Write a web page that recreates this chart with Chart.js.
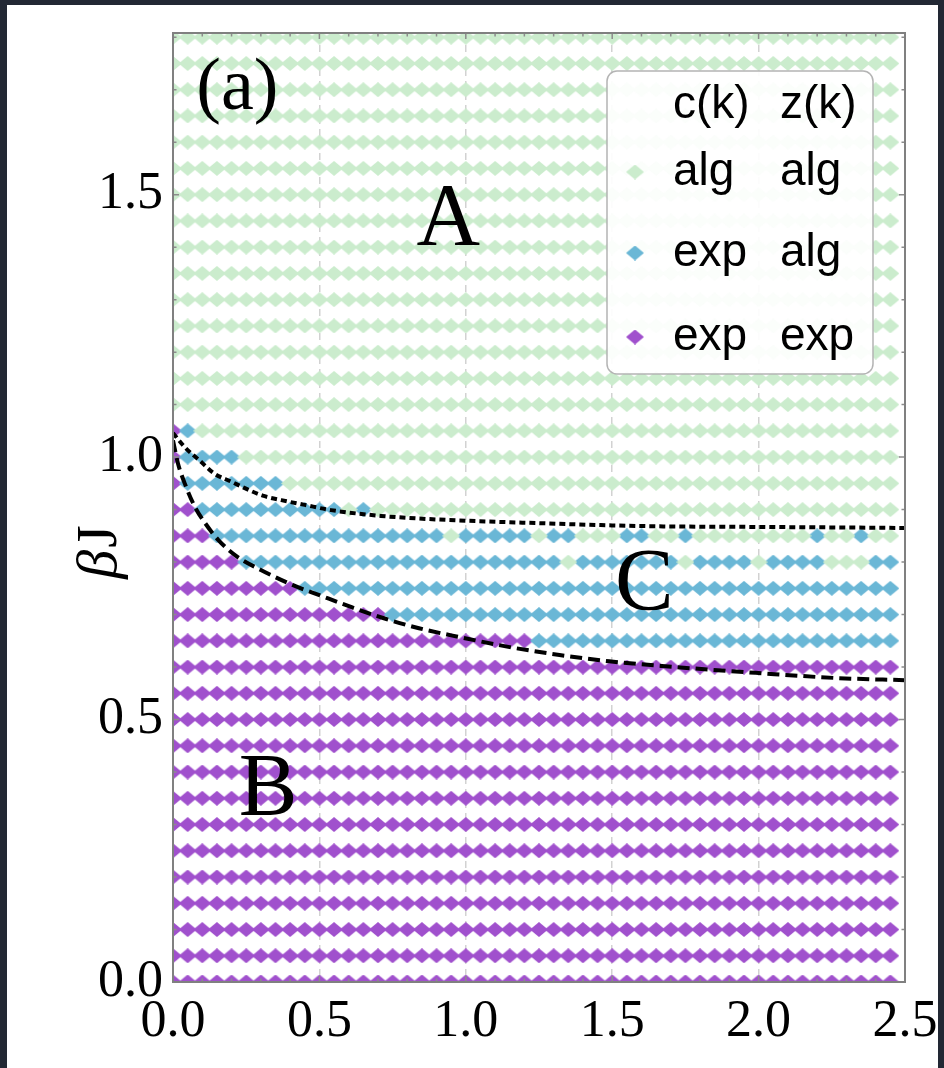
<!DOCTYPE html>
<html>
<head>
<meta charset="utf-8">
<title>phase diagram (a)</title>
<script src="https://cdn.jsdelivr.net/npm/chart.js@4.4.1/dist/chart.umd.min.js"></script>
<style>
  html, body { margin: 0; padding: 0; background: #222834; }
  #wrap { position: absolute; left: 7px; top: 5px; width: 931px; height: 1063px; background: #fff; }
</style>
</head>
<body>
<div id="wrap"><canvas id="phaseChart" width="931" height="1063"></canvas></div>
<script>
// grid of the scan
const hValues = [0.00, 0.05, 0.10, 0.15, 0.20, 0.25, 0.30, 0.35, 0.40, 0.45,
                 0.50, 0.55, 0.60, 0.65, 0.70, 0.75, 0.80, 0.85, 0.90, 0.95,
                 1.00, 1.05, 1.10, 1.15, 1.20, 1.25, 1.30, 1.35, 1.40, 1.45,
                 1.50, 1.55, 1.60, 1.65, 1.70, 1.75, 1.80, 1.85, 1.90, 1.95,
                 2.00, 2.05, 2.10, 2.15, 2.20, 2.25, 2.30, 2.35, 2.40, 2.45];
const betaJ = [1.80, 1.75, 1.70, 1.65, 1.60, 1.55, 1.50, 1.45, 1.40, 1.35,
               1.30, 1.25, 1.20, 1.15, 1.10, 1.05, 1.00, 0.95, 0.90, 0.85,
               0.80, 0.75, 0.70, 0.65, 0.60, 0.55, 0.50, 0.45, 0.40, 0.35,
               0.30, 0.25, 0.20, 0.15, 0.10, 0.05, 0.00];

// g: c(k) alg, z(k) alg   b: c(k) exp, z(k) alg   p: c(k) exp, z(k) exp
// one row per betaJ value, one letter per hValue (grouped by ten)
const phaseRows = [
  'gggggggggg gggggggggg gggggggggg gggggggggg gggggggggg', // 1.80
  'gggggggggg gggggggggg gggggggggg gggggggggg gggggggggg', // 1.75
  'gggggggggg gggggggggg gggggggggg gggggggggg gggggggggg', // 1.70
  'gggggggggg gggggggggg gggggggggg gggggggggg gggggggggg', // 1.65
  'gggggggggg gggggggggg gggggggggg gggggggggg gggggggggg', // 1.60
  'gggggggggg gggggggggg gggggggggg gggggggggg gggggggggg', // 1.55
  'gggggggggg gggggggggg gggggggggg gggggggggg gggggggggg', // 1.50
  'gggggggggg gggggggggg gggggggggg gggggggggg gggggggggg', // 1.45
  'gggggggggg gggggggggg gggggggggg gggggggggg gggggggggg', // 1.40
  'gggggggggg gggggggggg gggggggggg gggggggggg gggggggggg', // 1.35
  'gggggggggg gggggggggg gggggggggg gggggggggg gggggggggg', // 1.30
  'gggggggggg gggggggggg gggggggggg gggggggggg gggggggggg', // 1.25
  'gggggggggg gggggggggg gggggggggg gggggggggg gggggggggg', // 1.20
  'gggggggggg gggggggggg gggggggggg gggggggggg gggggggggg', // 1.15
  'gggggggggg gggggggggg gggggggggg gggggggggg gggggggggg', // 1.10
  'pbgggggggg gggggggggg gggggggggg gggggggggg gggggggggg', // 1.05
  'pbbbbggggg gggggggggg gggggggggg gggggggggg gggggggggg', // 1.00
  'pbbbbbbbgg gggggggggg gggggggggg gggggggggg gggggggggg', // 0.95
  'ppbbbbbbbb bbgbgggggg gggggggggg gggggggggg gggggggggg', // 0.90
  'pppbbbbbbb bbbbbbbbbg bbbbbgbbgg gbbggbgggg ggggbggbgg', // 0.85
  'pppppbbbbb bbbbbbbbbb bbbbbbbgbb bbbbbgbbbb gbbbbgggbb', // 0.80
  'pppppppppb bbbbbbbbbb bbbbbbbbbb bbbbbbbbbb bbbbbbbbbb', // 0.75
  'pppppppppp pppppbbbbb bbbbbbbbbb bbbbbbbbbb bbbbbbbbbb', // 0.70
  'pppppppppp pppppppppp pppppbbbbb bbbbbbbbbb bbbbbbbbbb', // 0.65
  'pppppppppp pppppppppp pppppppppp pppppppppp pppppppppp', // 0.60
  'pppppppppp pppppppppp pppppppppp pppppppppp pppppppppp', // 0.55
  'pppppppppp pppppppppp pppppppppp pppppppppp pppppppppp', // 0.50
  'pppppppppp pppppppppp pppppppppp pppppppppp pppppppppp', // 0.45
  'pppppppppp pppppppppp pppppppppp pppppppppp pppppppppp', // 0.40
  'pppppppppp pppppppppp pppppppppp pppppppppp pppppppppp', // 0.35
  'pppppppppp pppppppppp pppppppppp pppppppppp pppppppppp', // 0.30
  'pppppppppp pppppppppp pppppppppp pppppppppp pppppppppp', // 0.25
  'pppppppppp pppppppppp pppppppppp pppppppppp pppppppppp', // 0.20
  'pppppppppp pppppppppp pppppppppp pppppppppp pppppppppp', // 0.15
  'pppppppppp pppppppppp pppppppppp pppppppppp pppppppppp', // 0.10
  'pppppppppp pppppppppp pppppppppp pppppppppp pppppppppp', // 0.05
  'pppppppppp pppppppppp pppppppppp pppppppppp pppppppppp', // 0.00
];

// boundary curves
const upperX = [0.00, 0.04, 0.09, 0.14, 0.20, 0.26, 0.31, 0.37, 0.45, 0.54, 0.71, 0.84, 1.04, 1.26, 1.49, 1.68, 1.99, 2.27, 2.50];
const upperY = [1.046, 1.019, 0.994, 0.969, 0.953, 0.937, 0.926, 0.918, 0.909, 0.899, 0.888, 0.883, 0.878, 0.874, 0.870, 0.868, 0.867, 0.866, 0.865];
const lowerX = [0.00, 0.017, 0.04, 0.075, 0.11, 0.155, 0.22, 0.30, 0.41, 0.50, 0.61, 0.72, 0.84, 0.98, 1.15, 1.32, 1.49, 1.67, 1.99, 2.27, 2.50];
const lowerY = [1.032, 0.988, 0.950, 0.905, 0.874, 0.842, 0.810, 0.785, 0.756, 0.737, 0.714, 0.693, 0.674, 0.657, 0.638, 0.623, 0.611, 0.602, 0.589, 0.579, 0.575];

const xTicks = [0.0, 0.5, 1.0, 1.5, 2.0, 2.5];
const yTicks = [0.0, 0.5, 1.0, 1.5];

const phaseNames = { g: ['alg', 'alg'], b: ['exp', 'alg'], p: ['exp', 'exp'] };
const phaseColors = { g: '#cbeccd', b: '#6ab7d6', p: '#a050cd' };
const regionLabels = [
  { text: '(a)', x: 0.22, y: 1.70, size: 74 },
  { text: 'A', x: 0.94, y: 1.45, size: 88 },
  { text: 'B', x: 0.325, y: 0.365, size: 88 },
  { text: 'C', x: 1.61, y: 0.755, size: 88 },
];

function diamond(color, w, h) {
  const c = document.createElement('canvas');
  c.width = w; c.height = h;
  const g = c.getContext('2d');
  g.fillStyle = color;
  g.beginPath();
  g.moveTo(w / 2, 0); g.lineTo(w, h / 2); g.lineTo(w / 2, h); g.lineTo(0, h / 2);
  g.closePath();
  g.fill();
  return c;
}

const markers = {};
Object.keys(phaseColors).forEach(k => { markers[k] = diamond(phaseColors[k], 18, 15); });

const points = { g: [], b: [], p: [] };
phaseRows.forEach((row, i) => {
  row.replace(/ /g, '').split('').forEach((k, j) => points[k].push({ x: hValues[j], y: betaJ[i] }));
});

const curve = (xs, ys) => xs.map((x, i) => ({ x, y: ys[i] }));

// frame, inside ticks, region letters, axis title and the two-column legend
const overlay = {
  id: 'overlay',
  afterDatasetsDraw(chart) {
    const { ctx, chartArea: a, scales: { x, y } } = chart;
    ctx.save();

    ctx.strokeStyle = '#8c8c8c';
    ctx.lineWidth = 1.5;
    for (let v = 0; v <= 2.5001; v += 0.1) {
      const px = x.getPixelForValue(v);
      const len = Math.abs(v / 0.5 - Math.round(v / 0.5)) < 1e-6 ? 6 : 3.5;
      ctx.beginPath();
      ctx.moveTo(px, a.bottom); ctx.lineTo(px, a.bottom - len);
      ctx.moveTo(px, a.top); ctx.lineTo(px, a.top + len);
      ctx.stroke();
    }
    for (let v = 0; v <= 1.8001; v += 0.1) {
      const py = y.getPixelForValue(v);
      const len = Math.abs(v / 0.5 - Math.round(v / 0.5)) < 1e-6 ? 6 : 3.5;
      ctx.beginPath();
      ctx.moveTo(a.left, py); ctx.lineTo(a.left + len, py);
      ctx.moveTo(a.right, py); ctx.lineTo(a.right - len, py);
      ctx.stroke();
    }
    ctx.lineWidth = 2;
    ctx.strokeStyle = '#808080';
    ctx.strokeRect(a.left, a.top, a.width, a.height);

    ctx.fillStyle = '#000';
    ctx.textAlign = 'center';
    ctx.textBaseline = 'middle';
    regionLabels.forEach(l => {
      ctx.font = l.size + 'px "Liberation Serif"';
      ctx.fillText(l.text, x.getPixelForValue(l.x), y.getPixelForValue(l.y));
    });

    // y axis title: italic beta, upright J
    ctx.save();
    ctx.translate(a.left - 72, a.top + 519);
    ctx.rotate(-Math.PI / 2);
    ctx.textAlign = 'left';
    ctx.font = 'italic 58px "Liberation Serif"';
    const bw0 = ctx.measureText('β').width;
    ctx.font = '58px "Liberation Serif"';
    const jw = ctx.measureText('J').width;
    const x0 = -(bw0 + jw + 2) / 2;
    ctx.font = 'italic 58px "Liberation Serif"';
    ctx.fillText('β', x0, 0);
    ctx.font = '58px "Liberation Serif"';
    ctx.fillText('J', x0 + bw0 + 2, 0);
    ctx.restore();

    // legend box
    const bx = a.right - 298, by = a.top + 38, bw = 266, bh = 303;
    ctx.beginPath();
    ctx.roundRect(bx, by, bw, bh, 10);
    ctx.fillStyle = 'rgba(255,255,255,0.92)';
    ctx.fill();
    ctx.lineWidth = 1.5;
    ctx.strokeStyle = '#b4b4b4';
    ctx.stroke();

    ctx.fillStyle = '#000';
    ctx.textAlign = 'left';
    ctx.font = '46px "Liberation Sans"';
    const col1 = bx + 66, col2 = bx + 173;
    ctx.fillText('c(k)', col1, by + 34);
    ctx.fillText('z(k)', col2, by + 34);
    ['g', 'b', 'p'].forEach((k, i) => {
      const ry = by + [101, 182, 266][i];
      const m = markers[k];
      ctx.drawImage(m, bx + 28 - m.width / 2, ry - m.height / 2);
      ctx.fillText(phaseNames[k][0], col1, ry);
      ctx.fillText(phaseNames[k][1], col2, ry);
    });

    ctx.restore();
  }
};

const scatterSet = k => ({
  type: 'scatter',
  label: phaseNames[k].join(' '),
  data: points[k],
  pointStyle: markers[k],
  pointRadius: 8,
  clip: 0,
  order: 2,
});

// keep label overflow from pushing the plot area inwards
const noPad = s => { s.paddingTop = 0; s.paddingBottom = 0; s.paddingLeft = 0; s.paddingRight = 0; };

new Chart(document.getElementById('phaseChart'), {
  type: 'scatter',
  data: {
    datasets: [
      {
        type: 'line', label: 'upper', data: curve(upperX, upperY),
        borderColor: '#000', borderWidth: 4, borderDash: [6, 4],
        pointRadius: 0, fill: false, cubicInterpolationMode: 'monotone', clip: 0, order: 0
      },
      {
        type: 'line', label: 'lower', data: curve(lowerX, lowerY),
        borderColor: '#000', borderWidth: 4, borderDash: [12, 6],
        pointRadius: 0, fill: false, cubicInterpolationMode: 'monotone', clip: 0, order: 0
      },
      scatterSet('g'),
      scatterSet('b'),
      scatterSet('p'),
    ]
  },
  options: {
    responsive: false,
    animation: false,
    events: [],
    layout: { padding: { left: 0, top: 28, right: 33, bottom: 0 } },
    plugins: { legend: { display: false }, tooltip: { enabled: false } },
    scales: {
      x: {
        type: 'linear', min: 0, max: 2.5,
        afterBuildTicks: s => { s.ticks = xTicks.map(v => ({ value: v })); },
        afterFit: s => { s.height = 86; noPad(s); },
        grid: { color: '#d2d2d2', lineWidth: 1.5, drawTicks: false },
        border: { display: false, dash: [7, 5] },
        ticks: {
          autoSkip: false, maxRotation: 0, padding: 14, color: '#000',
          font: { family: 'Liberation Serif', size: 52, lineHeight: 1 },
          callback: v => v.toFixed(1)
        }
      },
      y: {
        type: 'linear', min: 0, max: 1.808,
        afterBuildTicks: s => { s.ticks = yTicks.map(v => ({ value: v })); },
        afterFit: s => { s.width = 166; noPad(s); },
        grid: { color: '#d2d2d2', lineWidth: 1.5, drawTicks: false },
        border: { display: false, dash: [7, 5] },
        ticks: {
          autoSkip: false, padding: 10, color: '#000',
          font: { family: 'Liberation Serif', size: 52, lineHeight: 1 },
          callback: v => v.toFixed(1)
        }
      }
    }
  },
  plugins: [overlay]
});
</script>
</body>
</html>
